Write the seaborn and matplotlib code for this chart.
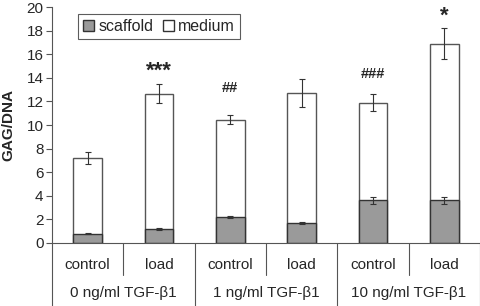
import numpy as np
import pandas as pd
import matplotlib
matplotlib.use('Agg')
import matplotlib.pyplot as plt
import matplotlib.transforms as mtransforms
from matplotlib.patches import Patch
import seaborn as sns

# dati
conditions = ['control', 'load', 'control', 'load', 'control', 'load']
groups = ['0 ng/ml TGF-β1', '1 ng/ml TGF-β1', '10 ng/ml TGF-β1']
total = [7.2, 12.65, 10.45, 12.7, 11.9, 16.9]
total_err = [0.5, 0.8, 0.4, 1.2, 0.7, 1.3]
scaffold = [0.8, 1.15, 2.2, 1.7, 3.6, 3.6]
scaffold_err = [0.08, 0.08, 0.12, 0.1, 0.3, 0.3]
marks = ['', '***', '##', '', '###', '*']
mark_y = [0, 14.6, 13.1, 0, 14.3, 19.2]

sns.set_style('ticks')
plt.rcParams['font.family'] = ['Liberation Sans', 'DejaVu Sans']

keys = [f'{i}_{c}' for i, c in enumerate(conditions)]
df = pd.DataFrame({'key': keys, 'total': total, 'scaffold': scaffold})

fig = plt.figure(figsize=(4.8, 3.06), dpi=100)
ax = fig.add_axes([0.108, 0.206, 0.892, 0.771])

sns.barplot(data=df, x='key', y='total', color='white', edgecolor='#555555',
            linewidth=1, width=0.4, errorbar=None, ax=ax, saturation=1)
sns.barplot(data=df, x='key', y='scaffold', color='#9a9a9a', edgecolor='#333333',
            linewidth=1, width=0.4, errorbar=None, ax=ax, saturation=1)

x = np.arange(len(keys))
ax.errorbar(x, total, yerr=total_err, fmt='none', ecolor='#333333', elinewidth=0.8, capsize=2.5, capthick=0.8)
ax.errorbar(x, scaffold, yerr=scaffold_err, fmt='none', ecolor='#333333', elinewidth=0.8, capsize=2.5, capthick=0.8)

# segni di significativita
for xi, m, my in zip(x, marks, mark_y):
    if m == '':
        continue
    size = 16 if '*' in m else 10.5
    ax.text(xi, my, m, ha='center', va='center', fontsize=size, fontweight='bold')

ax.set_xlim(-0.5, 5.5)
ax.set_ylim(0, 20)
ax.set_yticks(range(0, 21, 2))
ax.tick_params(axis='y', labelsize=11, length=4, width=0.8, color='#555555', pad=2)
ax.set_ylabel('GAG/DNA', fontsize=11, fontweight='bold', labelpad=8)
ax.set_xlabel('')
ax.set_xticks([])
sns.despine(ax=ax, top=True, right=True)
ax.spines['left'].set_color('#555555')
ax.spines['bottom'].set_color('#555555')

# etichette sotto l'asse a forma di tabella
trans = mtransforms.blended_transform_factory(ax.transData, ax.transAxes)
for b in np.arange(-0.5, 6.0, 1.0):
    long = (b + 0.5) % 2 == 0
    y_end = -0.27 if long else -0.135
    ax.plot([b, b], [0, y_end], transform=trans, color='#555555', lw=0.8, clip_on=False)
for xi, c in zip(x, conditions):
    ax.text(xi, -0.095, c, transform=trans, ha='center', va='center', fontsize=11)
for gi, g in enumerate(groups):
    ax.text(gi * 2 + 0.5, -0.213, g, transform=trans, ha='center', va='center', fontsize=11)

handles = [Patch(facecolor='#9a9a9a', edgecolor='#333333', label='scaffold'),
           Patch(facecolor='white', edgecolor='#333333', label='medium')]
leg = ax.legend(handles=handles, loc='upper left', bbox_to_anchor=(0.062, 0.97), ncol=2,
                fontsize=11.5, frameon=True, fancybox=False, handlelength=0.7, handleheight=0.7,
                handletextpad=0.25, columnspacing=0.6, borderpad=0.3, borderaxespad=0)
leg.get_frame().set_edgecolor('#333333')
leg.get_frame().set_linewidth(0.8)

fig.savefig('out.png', dpi=100)
